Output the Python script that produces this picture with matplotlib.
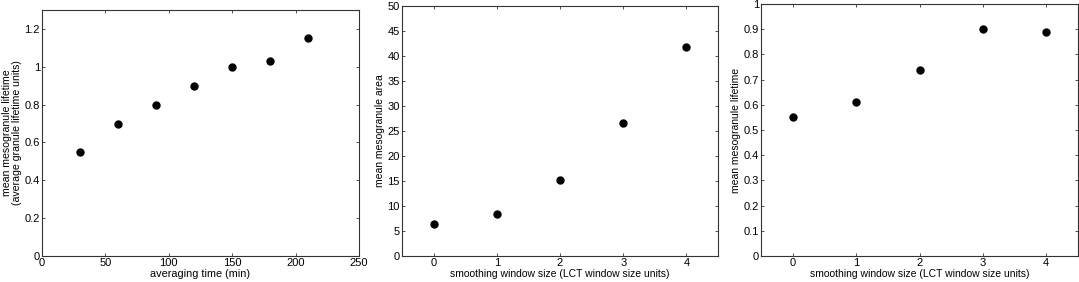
import matplotlib
matplotlib.use("Agg")
import matplotlib.pyplot as plt
from matplotlib.ticker import FormatStrFormatter, MultipleLocator

plt.rcParams['font.family'] = ['Liberation Sans', 'DejaVu Sans']
plt.rcParams['font.size'] = 8

avg_time = [30, 60, 90, 120, 150, 180, 210]
lifetime_vs_time = [0.55, 0.70, 0.80, 0.90, 1.00, 1.03, 1.15]

window = [0, 1, 2, 3, 4]
area_vs_window = [6.5, 8.5, 15.2, 26.7, 41.9]
lifetime_vs_window = [0.55, 0.61, 0.74, 0.90, 0.89]

W, H = 1079, 282
fig = plt.figure(figsize=(W / 100, H / 100), dpi=100)

def add_ax(l, r, t, b):
    return fig.add_axes([l / W, 1 - b / H, (r - l) / W, (b - t) / H])

def style(ax):
    ax.tick_params(direction='in', top=True, right=True, length=2.5, width=0.6,
                   pad=1.5, labelsize=8, color='#333333')
    for s in ax.spines.values():
        s.set_linewidth(0.8)
        s.set_color('#333333')
    ax.yaxis.set_major_formatter(FormatStrFormatter('%g'))
    ax.xaxis.set_major_formatter(FormatStrFormatter('%g'))

ax1 = add_ax(42, 359, 10, 256)
ax1.plot(avg_time, lifetime_vs_time, 'o', color='black', markersize=5)
ax1.set_xlim(0, 250)
ax1.set_ylim(0, 1.3)
ax1.xaxis.set_major_locator(MultipleLocator(50))
ax1.yaxis.set_major_locator(MultipleLocator(0.2))
ax1.set_xlabel('averaging time (min)', labelpad=1, fontsize=7.8)
ax1.set_ylabel('mean mesogranule lifetime\n(average granule lifetime units)', labelpad=2,
               linespacing=1.0, fontsize=7.6)
style(ax1)

ax2 = add_ax(402, 718, 6, 256)
ax2.plot(window, area_vs_window, 'o', color='black', markersize=5)
ax2.set_xlim(-0.5, 4.5)
ax2.set_ylim(0, 50)
ax2.xaxis.set_major_locator(MultipleLocator(1))
ax2.yaxis.set_major_locator(MultipleLocator(5))
ax2.set_xlabel('smoothing window size (LCT window size units)', labelpad=1, fontsize=7.5)
ax2.set_ylabel('mean mesogranule area', labelpad=2, fontsize=7.5)
style(ax2)

ax3 = add_ax(761, 1078, 4, 256)
ax3.plot(window, lifetime_vs_window, 'o', color='black', markersize=5)
ax3.set_xlim(-0.5, 4.5)
ax3.set_ylim(0, 1)
ax3.xaxis.set_major_locator(MultipleLocator(1))
ax3.yaxis.set_major_locator(MultipleLocator(0.1))
ax3.set_xlabel('smoothing window size (LCT window size units)', labelpad=1, fontsize=7.5)
ax3.set_ylabel('mean mesogranule lifetime', labelpad=2, fontsize=7.5)
style(ax3)

fig.savefig('out.png', dpi=100)
